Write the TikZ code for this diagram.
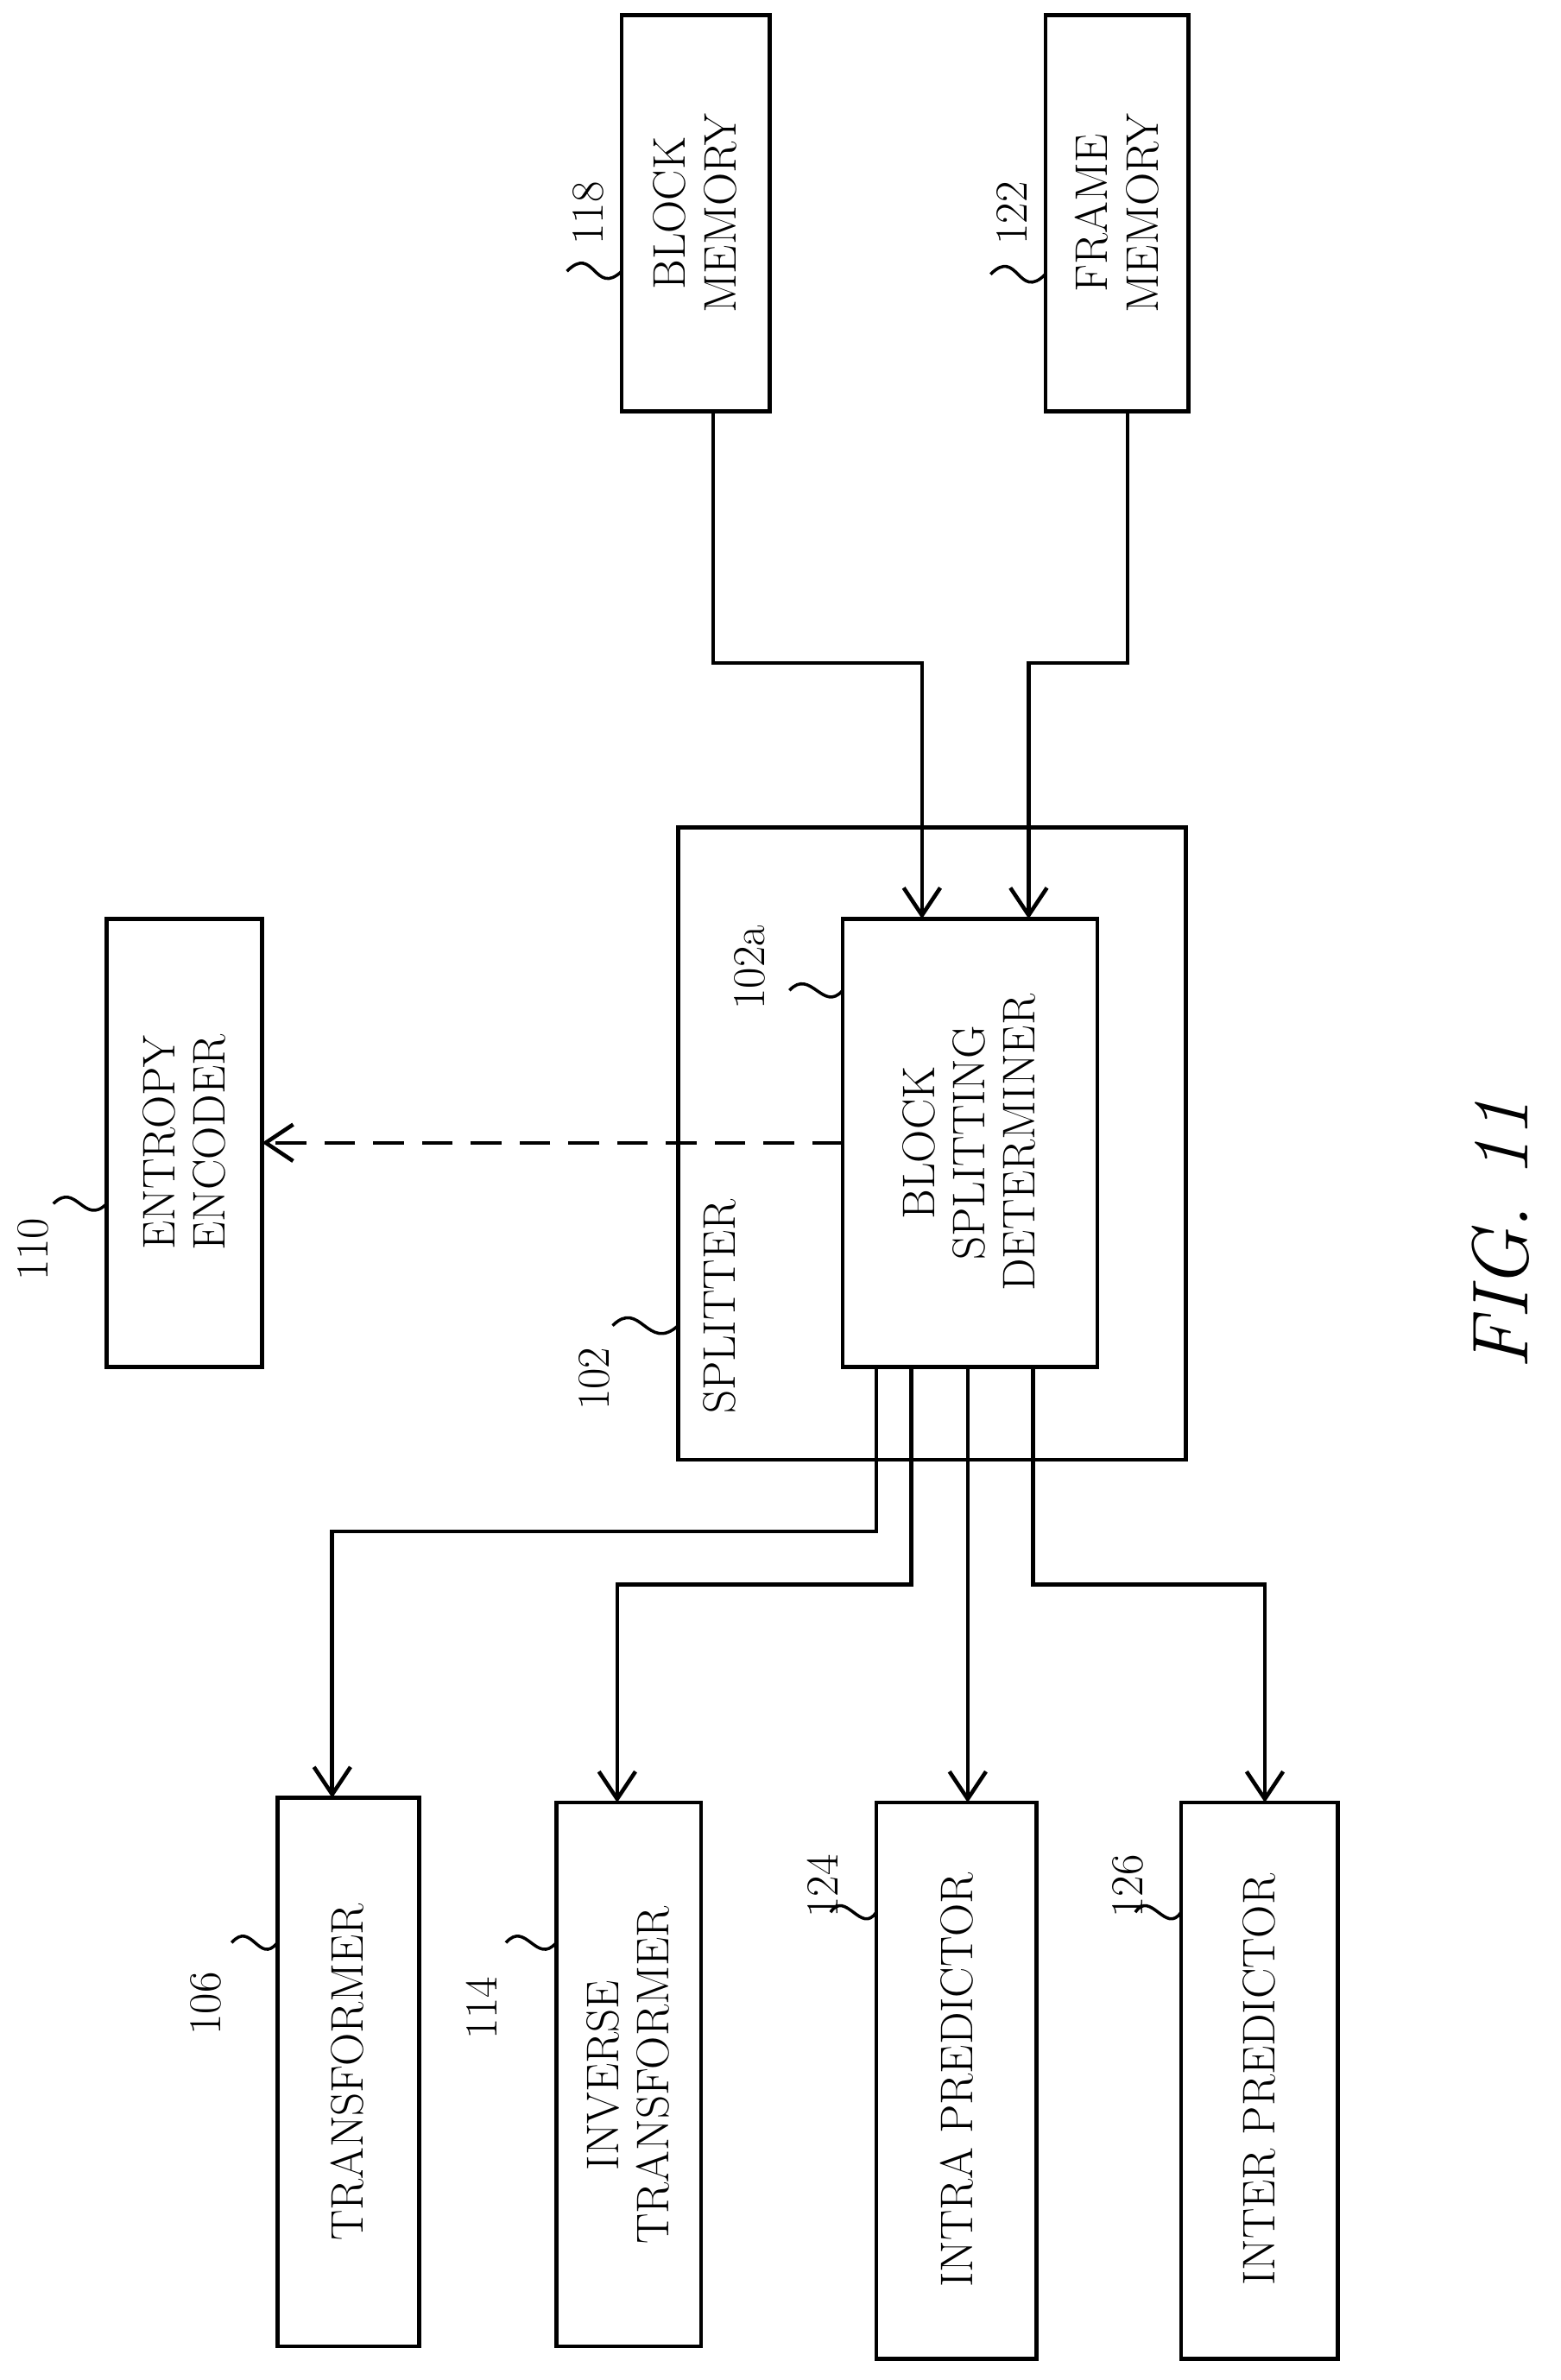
\documentclass[tikz,border=0pt]{standalone}
\usetikzlibrary{arrows.meta}
\begin{document}
\begin{tikzpicture}[x=0.5pt,y=-0.5pt,
  box/.style={draw,line width=1.3pt},
  lbl/.style={rotate=90,align=center,font=\fontsize{15}{16.5}\selectfont},
  num/.style={rotate=90,font=\fontsize{15}{16}\selectfont},
  con/.style={line width=1.3pt,-{Straight Barb[length=9pt,width=12pt,line width=1.3pt]}},
  sq/.style={line width=1pt}]
\useasboundingbox (0,0) rectangle (1024,1562);
\draw[box] (408,10) rectangle (505,270); \node[lbl] (bm) at (456,140) {BLOCK\\MEMORY};
\draw[box] (686,10) rectangle (780,270); \node[lbl] (fm) at (733,140) {FRAME\\MEMORY};
\draw[box] (445,543) rectangle (778,958);
\node[lbl,anchor=west] (sp) at (472,935) {SPLITTER};
\draw[box] (553,603) rectangle (720,897); \node[lbl] (bsd) at (636,750) {BLOCK\\SPLITTING\\DETERMINER};
\draw[box] (70,603) rectangle (172,897); \node[lbl] (ee) at (121,750) {ENTROPY\\ENCODER};
\draw[box] (182,1180) rectangle (275,1540); \node[lbl] (tr) at (228,1360) {TRANSFORMER};
\draw[box] (365,1183) rectangle (460,1540); \node[lbl] (it) at (412,1362) {INVERSE\\TRANSFORMER};
\draw[box] (575,1183) rectangle (680,1548); \node[lbl] (ip) at (628,1365) {INTRA PREDICTOR};
\draw[box] (775,1183) rectangle (878,1548); \node[lbl] (xp) at (826,1365) {INTER PREDICTOR};
% connectors
\draw[con] (468,270) |- (605,435) -- (605,603);
\draw[con] (740,270) |- (675,435) -- (675,603);
\draw[con,dashed,dash pattern=on 10pt off 6pt] (553,750) -- (172,750);
\draw[con] (575,897) |- (218,1005) -- (218,1180);
\draw[con] (598,897) |- (405,1040) -- (405,1183);
\draw[con] (635,897) -- (635,1183);
\draw[con] (678,897) |- (830,1040) -- (830,1183);
% reference numerals
\node[num] (n118) at (386,140) {118};
\draw[sq] (372,178) .. controls (390,160) and (390,195) .. (408,178);
\node[num] (n122) at (664,140) {122};
\draw[sq] (650,180) .. controls (668,162) and (668,198) .. (686,180);
\node[num] (n110) at (22,820) {110};
\draw[sq] (35,790) .. controls (50,775) and (55,805) .. (70,790);
\node[num] (n102) at (390,905) {102};
\draw[sq] (402,870) .. controls (420,852) and (425,888) .. (445,870);
\node[num] (n102a) at (492,635) {102a};
\draw[sq] (518,650) .. controls (532,635) and (540,665) .. (553,650);
\node[num] (n106) at (135,1315) {106};
\draw[sq] (152,1275) .. controls (165,1260) and (170,1290) .. (182,1275);
\node[num] (n114) at (316,1318) {114};
\draw[sq] (332,1275) .. controls (345,1260) and (352,1290) .. (365,1275);
\node[num] (n124) at (540,1238) {124};
\draw[sq] (545,1255) .. controls (555,1240) and (565,1270) .. (575,1255);
\node[num] (n126) at (740,1238) {126};
\draw[sq] (745,1255) .. controls (755,1240) and (765,1270) .. (775,1255);
\node[rotate=90,font=\fontsize{26}{28}\selectfont\itshape] (fig) at (985,810) {FIG. 11};
\end{tikzpicture}
\end{document}
